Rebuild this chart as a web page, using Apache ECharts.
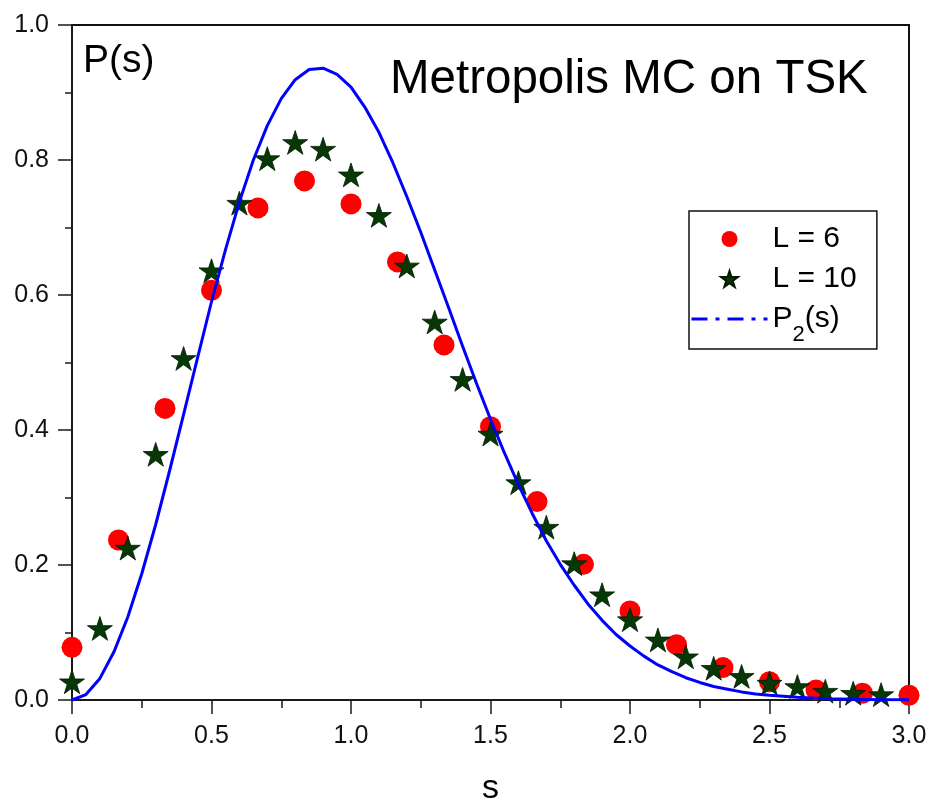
<!DOCTYPE html>
<html>
<head>
<meta charset="utf-8">
<script src="https://cdn.jsdelivr.net/npm/echarts@6/dist/echarts.min.js"></script>
<style>html,body{margin:0;padding:0;background:#fff}#c{width:930px;height:800px}</style>
</head>
<body>
<div id="c"></div>
<script>
// L = 6 (red circles), s step 1/6
const sL6 = [0, 0.1667, 0.3333, 0.5, 0.6667, 0.8333, 1.0, 1.1667, 1.3333, 1.5, 1.6667, 1.8333, 2.0, 2.1667, 2.3333, 2.5, 2.6667, 2.8333, 3.0];
const pL6 = [0.078, 0.237, 0.432, 0.607, 0.729, 0.769, 0.735, 0.649, 0.526, 0.405, 0.294, 0.201, 0.132, 0.082, 0.048, 0.027, 0.015, 0.010, 0.007];
// L = 10 (dark green stars), s step 0.1
const sL10 = [0, 0.1, 0.2, 0.3, 0.4, 0.5, 0.6, 0.7, 0.8, 0.9, 1.0, 1.1, 1.2, 1.3, 1.4, 1.5, 1.6, 1.7, 1.8, 1.9, 2.0, 2.1, 2.2, 2.3, 2.4, 2.5, 2.6, 2.7, 2.8, 2.9];
const pL10 = [0.027, 0.106, 0.225, 0.364, 0.506, 0.636, 0.736, 0.802, 0.826, 0.816, 0.778, 0.718, 0.643, 0.560, 0.475, 0.394, 0.322, 0.256, 0.202, 0.156, 0.119, 0.089, 0.064, 0.047, 0.035, 0.025, 0.020, 0.013, 0.010, 0.008];
// P2(s) curve (step 0.05)
const sP2 = [0, 0.05, 0.1, 0.15, 0.2, 0.25, 0.3, 0.35, 0.4, 0.45, 0.5, 0.55, 0.6, 0.65, 0.7, 0.75, 0.8, 0.85, 0.9, 0.95,
             1.0, 1.05, 1.1, 1.15, 1.2, 1.25, 1.3, 1.35, 1.4, 1.45, 1.5, 1.55, 1.6, 1.65, 1.7, 1.75, 1.8, 1.85, 1.9, 1.95,
             2.0, 2.05, 2.1, 2.15, 2.2, 2.25, 2.3, 2.35, 2.4, 2.45, 2.5, 2.6, 2.7, 2.8, 2.9, 3.0];
const pP2 = [0, 0.008, 0.032, 0.071, 0.123, 0.187, 0.260, 0.340, 0.423, 0.507, 0.590, 0.667, 0.738, 0.800, 0.851, 0.891, 0.919, 0.934, 0.936, 0.927,
             0.908, 0.878, 0.841, 0.796, 0.746, 0.693, 0.637, 0.581, 0.524, 0.469, 0.416, 0.366, 0.319, 0.276, 0.236, 0.201, 0.170, 0.142, 0.118, 0.097,
             0.080, 0.065, 0.052, 0.042, 0.033, 0.026, 0.020, 0.016, 0.012, 0.009, 0.007, 0.004, 0.002, 0.001, 0.0005, 0.0003];

const xTicks = ['0.0', '0.5', '1.0', '1.5', '2.0', '2.5', '3.0'];
const yTicks = ['0.0', '0.2', '0.4', '0.6', '0.8', '1.0'];

const names = ['L = 6', 'L = 10', 'P2(s)'];
const STAR = 'path://M50 0 L61.23 34.55 L97.55 34.55 L68.16 55.9 L79.39 90.45 L50 69.1 L20.61 90.45 L31.84 55.9 L2.45 34.55 L38.77 34.55 Z';
const FONT = 'Liberation Sans, Arial, sans-serif';

const zip = (a, b) => a.map((v, i) => [v, b[i]]);

const chart = echarts.init(document.getElementById('c'), null, {renderer: 'canvas'});
chart.setOption({
  animation: false,
  backgroundColor: '#fff',
  title: [
    {text: 'Metropolis MC on TSK', left: 390, top: 56, padding: 0,
     textStyle: {fontFamily: FONT, fontSize: 47.5, fontWeight: 'normal', color: '#000'}},
    {text: 'P(s)', left: 83, top: 42, padding: 0,
     textStyle: {fontFamily: FONT, fontSize: 39, fontWeight: 'normal', color: '#000'}}
  ],
  grid: {left: 72, right: 21, top: 25, bottom: 100, outerBoundsMode: 'none', containLabel: false,
         show: true, borderColor: '#111', borderWidth: 2, backgroundColor: 'transparent'},
  legend: {
    show: true,
    orient: 'vertical', left: 689, top: 211,
    itemWidth: 76, itemHeight: 16, itemGap: -14,
    padding: [1, 14, 3, 1],
    borderColor: '#111', borderWidth: 1.5, backgroundColor: '#fff',
    selectedMode: false,
    data: [
      {name: names[0]},
      {name: names[1]},
      {name: names[2], itemStyle: {opacity: 0}, lineStyle: {type: [16, 8, 4, 8], width: 3, color: '#0000ff'}}
    ],
    formatter: n => n === names[2] ? '{m|P}{sub|2}{m|(s)}' : '{m|' + n + '}{sub| }',
    textStyle: {
      fontFamily: FONT, fontSize: 30, color: '#000',
      rich: {
        m: {fontFamily: FONT, fontSize: 30, lineHeight: 30, color: '#000'},
        sub: {fontFamily: FONT, fontSize: 22, lineHeight: 22, color: '#000', padding: [32, 0, 0, 0]}
      }
    }
  },
  xAxis: {
    type: 'value', min: 0, max: 3, interval: 0.5,
    name: 's', nameLocation: 'middle', nameGap: 72,
    nameTextStyle: {fontFamily: FONT, fontSize: 34, color: '#000'},
    axisLine: {show: true, onZero: false, lineStyle: {color: '#1a1a1a', width: 2}},
    axisTick: {show: true, inside: false, length: 14, lineStyle: {color: '#1a1a1a', width: 1.5}},
    minorTick: {show: true, splitNumber: 2, length: 8, lineStyle: {color: '#1a1a1a', width: 1.5}},
    splitLine: {show: false},
    axisLabel: {margin: 24, fontFamily: FONT, fontSize: 25, color: '#111',
      formatter: v => xTicks[Math.round(v / 0.5)]}
  },
  yAxis: {
    type: 'value', min: 0, max: 1, interval: 0.2,
    axisLine: {show: true, onZero: false, lineStyle: {color: '#1a1a1a', width: 2}},
    axisTick: {show: true, inside: false, length: 14, lineStyle: {color: '#1a1a1a', width: 1.5}},
    minorTick: {show: true, splitNumber: 2, length: 7, lineStyle: {color: '#1a1a1a', width: 1.5}},
    splitLine: {show: false},
    axisLabel: {margin: 23, fontFamily: FONT, fontSize: 25, color: '#111',
      formatter: v => yTicks[Math.round(v / 0.2)]}
  },
  series: [
    {name: names[0], type: 'scatter', data: zip(sL6, pL6), symbol: 'circle', symbolSize: 21,
     itemStyle: {color: '#ff0000', opacity: 1}, z: 2, clip: true},
    {name: names[1], type: 'scatter', data: zip(sL10, pL10), symbol: STAR, symbolSize: 25, symbolKeepAspect: true,
     itemStyle: {color: '#063806', borderColor: '#001a00', borderWidth: 0.8, opacity: 1}, z: 3, clip: true},
    {name: names[2], type: 'line', data: zip(sP2, pP2), smooth: false, symbol: 'none', showSymbol: false,
     lineStyle: {color: '#0000ff', width: 3, join: 'round'}, itemStyle: {color: '#0000ff'}, z: 4, clip: true}
  ]
});
</script>
</body>
</html>
